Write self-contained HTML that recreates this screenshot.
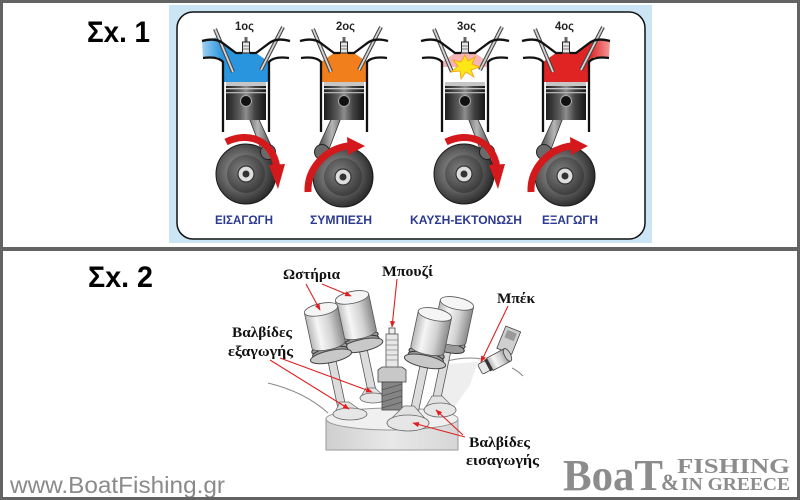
<!DOCTYPE html>
<html><head><meta charset="utf-8"><style>
html,body{margin:0;padding:0;background:#fff;}
svg{display:block;}
</style></head><body>
<svg width="800" height="500" viewBox="0 0 800 500" xmlns="http://www.w3.org/2000/svg">
<defs>
 <linearGradient id="metal" x1="0" x2="1" y1="0" y2="0">
  <stop offset="0" stop-color="#1c1c1c"/><stop offset="0.35" stop-color="#5e5e5e"/>
  <stop offset="0.5" stop-color="#8e8e8e"/><stop offset="0.72" stop-color="#444"/>
  <stop offset="1" stop-color="#161616"/>
 </linearGradient>
 <radialGradient id="crankg" cx="0.42" cy="0.45" r="0.6">
  <stop offset="0" stop-color="#a4a4a4"/><stop offset="0.55" stop-color="#626262"/>
  <stop offset="1" stop-color="#262626"/>
 </radialGradient>
 <radialGradient id="crankin" cx="0.4" cy="0.4" r="0.6">
  <stop offset="0" stop-color="#808080"/><stop offset="1" stop-color="#3e3e3e"/>
 </radialGradient>
 <linearGradient id="rodg" x1="0" x2="1">
  <stop offset="0" stop-color="#4a4a4a"/><stop offset="0.5" stop-color="#b5b5b5"/><stop offset="1" stop-color="#3a3a3a"/>
 </linearGradient>
 <linearGradient id="tap" x1="0" x2="1">
  <stop offset="0" stop-color="#b8b8b8"/><stop offset="0.3" stop-color="#f6f6f6"/>
  <stop offset="0.65" stop-color="#d2d2d2"/><stop offset="1" stop-color="#8a8a8a"/>
 </linearGradient>
 <linearGradient id="blueg" x1="0" x2="1">
  <stop offset="0" stop-color="#9fd0f2"/><stop offset="0.3" stop-color="#2a95df"/><stop offset="1" stop-color="#2a95df"/>
 </linearGradient>
 <linearGradient id="redg" x1="1" x2="0">
  <stop offset="0" stop-color="#f29a9a"/><stop offset="0.3" stop-color="#e02424"/><stop offset="1" stop-color="#e02424"/>
 </linearGradient>
 <linearGradient id="blockg" x1="0" x2="1">
  <stop offset="0" stop-color="#cfcfcf"/><stop offset="0.5" stop-color="#e8e8e8"/><stop offset="1" stop-color="#d6d6d6"/>
 </linearGradient>
 <marker id="ah" viewBox="0 0 10 10" refX="9" refY="5" markerWidth="6" markerHeight="6" orient="auto">
  <path d="M0,1 L10,5 L0,9 z" fill="#e02020"/>
 </marker>

 <g id="cyl">
  <line x1="-31" y1="29" x2="-13" y2="72" stroke="#444" stroke-width="4"/>
  <line x1="-31" y1="29" x2="-13" y2="72" stroke="#d4d4d4" stroke-width="1.8"/>
  <line x1="37" y1="27" x2="15" y2="70" stroke="#444" stroke-width="4"/>
  <line x1="37" y1="27" x2="15" y2="70" stroke="#d4d4d4" stroke-width="1.8"/>
  <path d="M-44,41 Q-30,37 -22,44 L-10,53 L-4,53 M4,53 L10,53 L22,44 Q30,37 44,41 M-43,58 Q-28,56 -23,62 L-23,132 M43,58 Q28,56 23,62 L23,132" fill="none" stroke="#111" stroke-width="2.3"/>
  <rect x="-1.5" y="37" width="3" height="5" fill="#666"/>
  <rect x="-3.5" y="42" width="7" height="11" fill="#e6e6e6" stroke="#222" stroke-width="1"/>
  <line x1="-3.5" y1="46" x2="3.5" y2="46" stroke="#666" stroke-width="0.8"/>
  <line x1="-3.5" y1="49" x2="3.5" y2="49" stroke="#666" stroke-width="0.8"/>
  <rect x="-20" y="82" width="40" height="38" fill="url(#metal)"/>
  <rect x="-20" y="82" width="40" height="4" fill="#c6c6c6"/>
  <rect x="-20" y="88" width="40" height="1.3" fill="#c8c8c8"/>
  <rect x="-20" y="92" width="40" height="1.3" fill="#b4b4b4"/>
  <circle cx="0" cy="101" r="5.5" fill="#111" stroke="#a8a8a8" stroke-width="1"/>
 </g>
 <g id="crank">
  <circle r="30" fill="url(#crankg)" stroke="#1a1a1a" stroke-width="1"/>
  <circle r="19" fill="url(#crankin)"/>
  <circle r="8" fill="#dedede" stroke="#333" stroke-width="1.2"/>
  <circle r="3.5" fill="#333"/>
 </g>
 <g id="rodR">
  <polygon points="-3.2,101.4 16.9,154.1 27.1,149.9 3.2,98.6" fill="url(#rodg)" stroke="#333" stroke-width="0.8"/>
  <circle cx="22" cy="152" r="7.5" fill="#6a6a6a" stroke="#222"/>
 </g>
 <g id="arrA">
  <path d="M -20,142 C 2,131 27,140 31,168" fill="none" stroke="#d4191c" stroke-width="7"/>
  <polygon points="23,165 39,164 32,189" fill="#d4191c"/>
 </g>
 <g id="arrB">
  <path d="M -36,192 C -37,168 -18,149 4,146" fill="none" stroke="#d4191c" stroke-width="7"/>
  <polygon points="3,137 4,155 21,146" fill="#d4191c"/>
 </g>
</defs>

<rect x="0" y="0" width="800" height="500" fill="#fff"/>

<!-- Figure 1 panel -->
<rect x="169" y="5" width="483" height="238" fill="#cbe5f5"/>
<rect x="177" y="12" width="468" height="227" rx="16" fill="#fff" stroke="#111" stroke-width="1.5"/>

<!-- Piston 1 -->
<polygon transform="translate(246,0)" points="-44,41 -30,37.5 -22,44 -10,53 10,53 23,62 23,82 -23,82 -23,62 -28,57 -43,58" fill="url(#blueg)"/>
<use href="#crank" transform="translate(246,174)"/>
<use href="#rodR" transform="translate(246,0)"/>
<use href="#cyl" transform="translate(246,0)"/>
<use href="#arrA" transform="translate(246,0)"/>

<!-- Piston 2 -->
<polygon transform="translate(344,0)" points="-10,53 10,53 23,62 23,82 -23,82 -23,62" fill="#f07f1c"/>
<use href="#crank" transform="translate(343,177)"/>
<use href="#rodR" transform="translate(344,0) scale(-1,1)"/>
<use href="#cyl" transform="translate(344,0)"/>
<use href="#arrB" transform="translate(344,0)"/>

<!-- Piston 3 -->
<polygon transform="translate(465,0)" points="-10,53 10,53 23,62 23,67 -23,67 -23,62" fill="#f5b5b5"/>
<use href="#crank" transform="translate(464,174)"/>
<use href="#rodR" transform="translate(465,0)"/>
<use href="#cyl" transform="translate(465,0)"/>
<polygon transform="translate(465,0)" points="0,55 3,61 10,57 7,64 15,67 6,70 9,77 1,72 -4,79 -5,71 -14,72 -7,66 -12,60 -4,62" fill="#ffe617" stroke="#f39c12" stroke-width="0.8"/>
<use href="#arrA" transform="translate(466,0)"/>

<!-- Piston 4 -->
<polygon transform="translate(566,0)" points="44,41 30,37.5 22,44 10,53 -10,53 -23,62 -23,82 23,82 23,62 28,57 43,58" fill="url(#redg)"/>
<use href="#crank" transform="translate(565,176)"/>
<use href="#rodR" transform="translate(566,0) scale(-1,1)"/>
<use href="#cyl" transform="translate(566,0)"/>
<use href="#arrB" transform="translate(567,0)"/>

<!-- Fig 1 labels -->
<g font-family="Liberation Sans, sans-serif" font-weight="bold" font-size="11.5" fill="#222">
 <text x="235" y="30" textLength="19" lengthAdjust="spacingAndGlyphs">1ος</text>
 <text x="336" y="30" textLength="19" lengthAdjust="spacingAndGlyphs">2ος</text>
 <text x="457" y="30" textLength="19" lengthAdjust="spacingAndGlyphs">3ος</text>
 <text x="555" y="30" textLength="19" lengthAdjust="spacingAndGlyphs">4ος</text>
</g>
<g font-family="Liberation Sans, sans-serif" font-weight="bold" font-size="12" fill="#2b3990">
 <text x="215" y="224" textLength="58" lengthAdjust="spacingAndGlyphs">ΕΙΣΑΓΩΓΗ</text>
 <text x="310" y="224" textLength="62" lengthAdjust="spacingAndGlyphs">ΣΥΜΠΙΕΣΗ</text>
 <text x="410" y="224" textLength="112" lengthAdjust="spacingAndGlyphs">ΚΑΥΣΗ-ΕΚΤΟΝΩΣΗ</text>
 <text x="542" y="224" textLength="56" lengthAdjust="spacingAndGlyphs">ΕΞΑΓΩΓΗ</text>
</g>

<!-- Section titles -->
<g font-family="Liberation Sans, sans-serif" font-weight="bold" font-size="30" fill="#000">
 <text x="87" y="42" textLength="63" lengthAdjust="spacingAndGlyphs">Σx. 1</text>
 <text x="88" y="287" textLength="65" lengthAdjust="spacingAndGlyphs">Σx. 2</text>
</g>

<!-- Figure 2: engine head -->
<polygon points="447,364 478,362 470,385 452,410 440,404" fill="#eeeeee"/>
<path d="M 268,383 Q 305,392 328,413" fill="none" stroke="#888" stroke-width="1"/>
<path d="M 443,362 Q 465,356 482,359 M 512,368 Q 518,371 523,376" fill="none" stroke="#888" stroke-width="1"/>
<path d="M 326,418 L 326,450 L 458,450 L 458,420" fill="url(#blockg)" stroke="#999" stroke-width="1"/>
<ellipse cx="392" cy="419" rx="66" ry="11" fill="#f0f0f0" stroke="#999" stroke-width="1"/>

<!-- T2 back exhaust -->
<g transform="translate(356,316) rotate(-12)">
 <rect x="-4" y="30" width="8" height="50" fill="#dcdcdc" stroke="#555" stroke-width="0.8"/>
 <ellipse cx="0" cy="22" rx="18" ry="5" fill="#9a9a9a" stroke="#333"/>
 <ellipse cx="0" cy="26" rx="18" ry="5" fill="#9a9a9a" stroke="#333"/>
 <ellipse cx="0" cy="30" rx="21" ry="6" fill="#c8c8c8" stroke="#444"/>
 <path d="M -17,-19 L -17,18 A 17 5 0 0 0 17,18 L 17,-19 Z" fill="url(#tap)" stroke="#555" stroke-width="0.8"/>
 <ellipse cx="0" cy="-19" rx="17" ry="6" fill="#f5f5f5" stroke="#555" stroke-width="0.8"/>
</g>
<polygon points="366,388 375,388 386,398 360,398" fill="#e2e2e2" stroke="#666" stroke-width="0.7"/>
<ellipse cx="373" cy="398" rx="13" ry="5" fill="#e6e6e6" stroke="#666" stroke-width="0.8"/>

<!-- T4 back intake -->
<g transform="translate(453,322) rotate(12)">
 <rect x="-4" y="30" width="8" height="52" fill="#dcdcdc" stroke="#555" stroke-width="0.8"/>
 <ellipse cx="0" cy="22" rx="17" ry="5" fill="#9a9a9a" stroke="#333"/>
 <ellipse cx="0" cy="26" rx="17" ry="5" fill="#9a9a9a" stroke="#333"/>
 <path d="M -17,-19 L -17,18 A 17 5 0 0 0 17,18 L 17,-19 Z" fill="url(#tap)" stroke="#555" stroke-width="0.8"/>
 <ellipse cx="0" cy="-19" rx="17" ry="6" fill="#f5f5f5" stroke="#555" stroke-width="0.8"/>
</g>
<polygon points="432,396 442,396 456,410 424,410" fill="#e2e2e2" stroke="#666" stroke-width="0.7"/>
<ellipse cx="440" cy="410" rx="16" ry="7" fill="#e6e6e6" stroke="#666" stroke-width="0.8"/>

<!-- Spark plug -->
<rect x="389" y="328" width="6" height="6" fill="#eee" stroke="#444" stroke-width="0.8"/>
<rect x="386" y="334" width="12" height="34" fill="#e8e8e8" stroke="#555" stroke-width="0.8"/>
<path d="M386,340 H398 M386,345 H398 M386,350 H398 M386,355 H398 M386,360 H398" stroke="#888" stroke-width="0.7"/>
<polygon points="378,370 382,367 402,367 406,370 406,382 378,382" fill="#c8c8c8" stroke="#444" stroke-width="0.8"/>
<rect x="382" y="382" width="20" height="28" fill="#858585" stroke="#444" stroke-width="0.8"/>
<path d="M382,390 L402,384 M382,396 L402,390 M382,402 L402,396 M382,408 L402,402" stroke="#555" stroke-width="0.8"/>

<!-- T1 front exhaust -->
<g transform="translate(325,328) rotate(-12)">
 <rect x="-4" y="30" width="8" height="55" fill="#dcdcdc" stroke="#555" stroke-width="0.8"/>
 <ellipse cx="0" cy="21" rx="18" ry="5" fill="#9a9a9a" stroke="#333"/>
 <ellipse cx="0" cy="25" rx="18" ry="5" fill="#9a9a9a" stroke="#333"/>
 <ellipse cx="0" cy="29" rx="21" ry="6" fill="#c8c8c8" stroke="#444"/>
 <path d="M -17,-19 L -17,17 A 17 5 0 0 0 17,17 L 17,-19 Z" fill="url(#tap)" stroke="#555" stroke-width="0.8"/>
 <ellipse cx="0" cy="-19" rx="17" ry="6" fill="#f5f5f5" stroke="#555" stroke-width="0.8"/>
</g>
<polygon points="340,402 349,402 366,414 334,414" fill="#e2e2e2" stroke="#666" stroke-width="0.7"/>
<ellipse cx="350" cy="414" rx="17" ry="6" fill="#e6e6e6" stroke="#666" stroke-width="0.8"/>

<!-- T3 front intake -->
<g transform="translate(431,333) rotate(12)">
 <rect x="-4" y="30" width="8" height="56" fill="#dcdcdc" stroke="#555" stroke-width="0.8"/>
 <ellipse cx="0" cy="21" rx="18" ry="5" fill="#9a9a9a" stroke="#333"/>
 <ellipse cx="0" cy="25" rx="18" ry="5" fill="#9a9a9a" stroke="#333"/>
 <ellipse cx="0" cy="29" rx="21" ry="6" fill="#c8c8c8" stroke="#444"/>
 <path d="M -17,-19 L -17,17 A 17 5 0 0 0 17,17 L 17,-19 Z" fill="url(#tap)" stroke="#555" stroke-width="0.8"/>
 <ellipse cx="0" cy="-19" rx="17" ry="6" fill="#f5f5f5" stroke="#555" stroke-width="0.8"/>
</g>
<polygon points="404,406 414,406 429,423 387,423" fill="#e2e2e2" stroke="#666" stroke-width="0.7"/>
<ellipse cx="408" cy="423" rx="21" ry="8" fill="#e6e6e6" stroke="#666" stroke-width="0.8"/>

<!-- Injector -->
<g transform="translate(508,342) rotate(22)">
 <rect x="-8" y="-14" width="16" height="24" fill="#cfcfcf" stroke="#444" stroke-width="0.8"/>
 <rect x="-5" y="-11" width="10" height="8" fill="#999"/>
</g>
<g transform="translate(496,361) rotate(-28)">
 <rect x="-18" y="-5.5" width="9" height="11" rx="2" fill="#e8e8e8" stroke="#444" stroke-width="0.8"/>
 <rect x="-10" y="-6.5" width="3" height="13" fill="#333"/>
 <rect x="-7" y="-7" width="20" height="14" fill="url(#tap)" stroke="#444" stroke-width="0.8"/>
 <ellipse cx="13" cy="0" rx="3" ry="7" fill="#ccc" stroke="#444" stroke-width="0.8"/>
</g>

<!-- Leader lines -->
<g stroke="#e02020" stroke-width="1.1" fill="none" marker-end="url(#ah)">
 <line x1="306" y1="284" x2="320" y2="310"/>
 <line x1="322" y1="284" x2="351" y2="296"/>
 <line x1="397" y1="279" x2="392" y2="327"/>
 <line x1="508" y1="306" x2="481" y2="362"/>
 <line x1="270" y1="360" x2="349" y2="409"/>
 <line x1="280" y1="358" x2="372" y2="392"/>
 <line x1="465" y1="437" x2="413" y2="423"/>
 <line x1="463" y1="435" x2="436" y2="410"/>
</g>

<!-- Fig 2 labels -->
<g font-family="Liberation Serif, serif" font-weight="bold" font-size="15" fill="#111">
 <text x="283" y="279" textLength="57" lengthAdjust="spacingAndGlyphs">Ωστήρια</text>
 <text x="382" y="276" textLength="51" lengthAdjust="spacingAndGlyphs">Μπουζί</text>
 <text x="497" y="303" textLength="38" lengthAdjust="spacingAndGlyphs">Μπέκ</text>
 <text x="232" y="337" textLength="60" lengthAdjust="spacingAndGlyphs">Βαλβίδες</text>
 <text x="228" y="356" textLength="65" lengthAdjust="spacingAndGlyphs">εξαγωγής</text>
 <text x="469" y="447" textLength="61" lengthAdjust="spacingAndGlyphs">Βαλβίδες</text>
 <text x="466" y="465" textLength="73" lengthAdjust="spacingAndGlyphs">εισαγωγής</text>
</g>

<!-- Footer -->
<text x="10" y="493" font-family="Liberation Sans, sans-serif" font-size="23" fill="#8a8a8a" textLength="215" lengthAdjust="spacingAndGlyphs">www.BoatFishing.gr</text>
<g font-family="Liberation Serif, serif" font-weight="bold" fill="#8c8c8c">
 <text x="563" y="490" font-size="44" textLength="100" lengthAdjust="spacingAndGlyphs">BoaT</text>
 <text x="661" y="490" font-size="23" textLength="18" lengthAdjust="spacingAndGlyphs">&amp;</text>
 <text x="677" y="473" font-size="21" textLength="113" lengthAdjust="spacingAndGlyphs">FISHING</text>
 <text x="681" y="490" font-size="18" textLength="109" lengthAdjust="spacingAndGlyphs">IN GREECE</text>
</g>

<!-- Frame -->
<rect x="0" y="0" width="800" height="3" fill="#636363"/>
<rect x="0" y="0" width="3" height="500" fill="#636363"/>
<rect x="797" y="0" width="3" height="500" fill="#636363"/>
<rect x="0" y="497" width="800" height="3" fill="#636363"/>
<rect x="0" y="247" width="800" height="4" fill="#636363"/>
</svg>
</body></html>
